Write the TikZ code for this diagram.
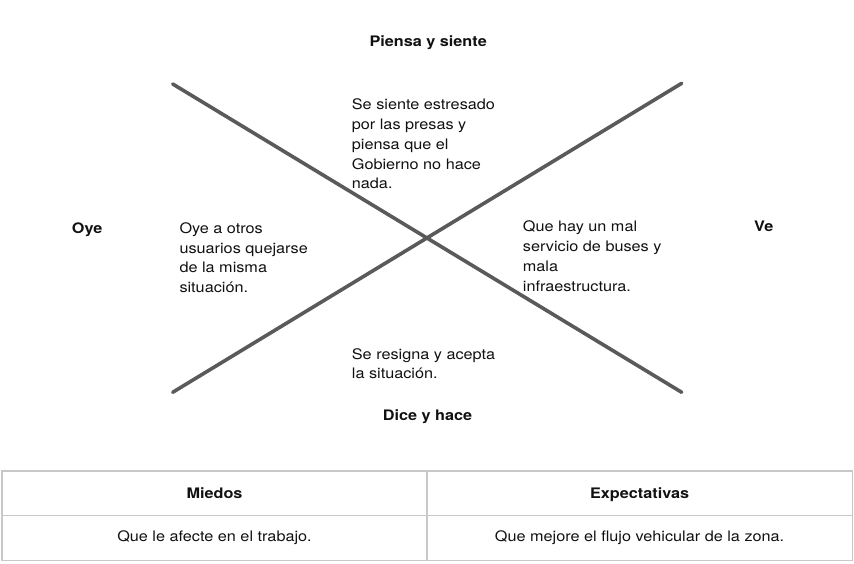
\documentclass[tikz,border=0pt]{standalone}
\usepackage{fontspec}
\setmainfont{TeX Gyre Heros}[FakeStretch=1.12]
\definecolor{xline}{HTML}{5A5A5A}
\definecolor{tline}{HTML}{C8C8C8}
\definecolor{ink}{HTML}{111111}
\newcommand{\ml}[1]{\begin{tabular}[t]{@{}l@{}}#1\end{tabular}}
\begin{document}
\begin{tikzpicture}[x=1pt,y=-1pt,
  every node/.style={inner sep=0pt, text=ink, font=\fontsize{14.5}{19.7}\selectfont},
  lbl/.style={anchor=base west, font=\fontsize{14.5}{19.7}\selectfont\bfseries},
  body/.style={anchor=base west},
  cell/.style={anchor=base},
  xl/.style={draw=xline, line width=3.6pt, line cap=round},
  tl/.style={draw=tline, line width=1.4pt}]
\useasboundingbox (0,0) rectangle (854,564);
% cross
\coordinate (tlft) at (172.7,84);
\coordinate (brgt) at (681.7,392.3);
\coordinate (blft) at (172.7,392.3);
\coordinate (trgt) at (681.7,83.3);
\draw[xl] (tlft) -- (brgt);
\draw[xl] (blft) -- (trgt);
% headings
\node[lbl] (piensa) at (369.3,46.7) {Piensa y siente};
\node[lbl] (oye) at (71.7,233.5) {Oye};
\node[lbl] (ve) at (754,232) {Ve};
\node[lbl, anchor=base] (dice) at (427.5,420) {Dice y hace};
% bodies
\node[body] (top) at (351.7,110) {\ml{Se siente estresado\\por las presas y\\piensa que el\\Gobierno no hace\\nada.}};
\node[body] (left) at (179.3,233.5) {\ml{Oye a otros\\usuarios quejarse\\de la misma\\situación.}};
\node[body] (right) at (522.7,232) {\ml{Que hay un mal\\servicio de buses y\\mala\\infraestructura.}};
\node[body] (bottom) at (351.7,359) {\ml{Se resigna y acepta\\la situación.}};
% table
\coordinate (ta) at (2,471);
\coordinate (tb) at (852.3,560.7);
\draw[tl] (ta) rectangle (tb);
\coordinate (m1) at (2,515.7);
\coordinate (m2) at (852.3,515.7);
\draw[tl] (m1) -- (m2);
\coordinate (d1) at (427,471);
\coordinate (d2) at (427,560.7);
\draw[tl] (d1) -- (d2);
\node[cell, font=\fontsize{14.5}{19.7}\selectfont\bfseries] (miedos) at (214.5,498) {Miedos};
\node[cell, font=\fontsize{14.5}{19.7}\selectfont\bfseries] (expect) at (639.6,498) {Expectativas};
\node[cell] (c1) at (214.5,541.5) {Que le afecte en el trabajo.};
\node[cell] (c2) at (639.6,541.5) {Que mejore el flujo vehicular de la zona.};
\end{tikzpicture}
\end{document}
